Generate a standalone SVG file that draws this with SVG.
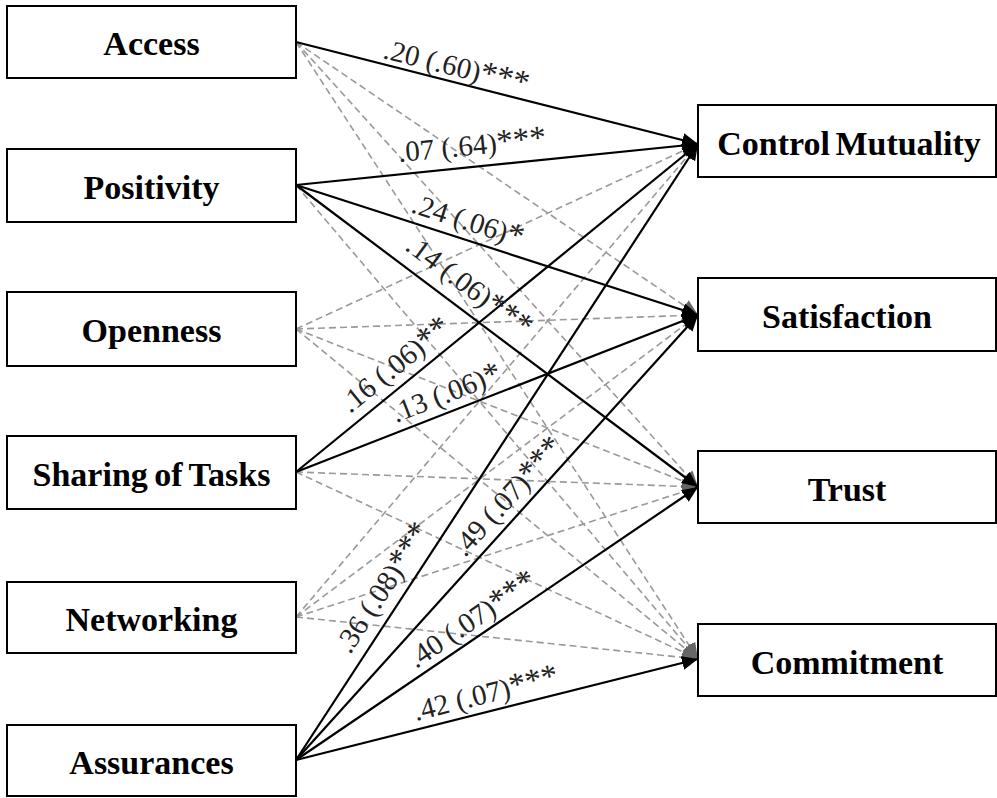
<svg xmlns="http://www.w3.org/2000/svg" width="997" height="798" viewBox="0 0 997 798">
  <style>
    .box { fill: #fff; stroke: #000; stroke-width: 2; }
    .name { font-family: "Liberation Serif", "Times New Roman", serif; font-weight: bold; font-size: 34px; fill: #000; text-anchor: middle; }
    .sig { stroke: #000; stroke-width: 2.2; fill: none; marker-end: url(#headSolid); }
    .ns { stroke: #999; stroke-width: 1.6; stroke-dasharray: 7 4; fill: none; marker-end: url(#headDash); }
    .coef { font-family: "Liberation Serif", "Times New Roman", serif; font-size: 29px; fill: #222; }
    .star { font-size: 33px; }
  </style>
  <defs>
    <marker id="headSolid" markerUnits="userSpaceOnUse" markerWidth="18" markerHeight="16" refX="16" refY="7" orient="auto">
      <path d="M0,0 L16,7 L0,14 Z" fill="#000"/>
    </marker>
    <marker id="headDash" markerUnits="userSpaceOnUse" markerWidth="18" markerHeight="16" refX="16" refY="7" orient="auto">
      <path d="M0,0 L16,7 L0,14 Z" fill="#666"/>
    </marker>
  </defs>
  <rect width="997" height="798" fill="#fff"/>

  <!-- paths; dashed = non-significant -->
  <g id="connectors">
    <g id="nonsignificant">
      <line class="ns" x1="296" y1="42" x2="698" y2="315"/>
      <line class="ns" x1="296" y1="42" x2="698" y2="487"/>
      <line class="ns" x1="296" y1="42" x2="698" y2="659"/>
      <line class="ns" x1="296" y1="185" x2="698" y2="659"/>
      <line class="ns" x1="296" y1="329" x2="698" y2="144"/>
      <line class="ns" x1="296" y1="329" x2="698" y2="315"/>
      <line class="ns" x1="296" y1="329" x2="698" y2="487"/>
      <line class="ns" x1="296" y1="329" x2="698" y2="659"/>
      <line class="ns" x1="296" y1="472" x2="698" y2="487"/>
      <line class="ns" x1="296" y1="472" x2="698" y2="659"/>
      <line class="ns" x1="296" y1="617" x2="698" y2="144"/>
      <line class="ns" x1="296" y1="617" x2="698" y2="315"/>
      <line class="ns" x1="296" y1="617" x2="698" y2="487"/>
      <line class="ns" x1="296" y1="617" x2="698" y2="659"/>
    </g>
    <g id="significant">
      <line class="sig" x1="296" y1="42" x2="698" y2="144"/>
      <line class="sig" x1="296" y1="185" x2="698" y2="144"/>
      <line class="sig" x1="296" y1="185" x2="698" y2="315"/>
      <line class="sig" x1="296" y1="185" x2="698" y2="487"/>
      <line class="sig" x1="296" y1="472" x2="698" y2="144"/>
      <line class="sig" x1="296" y1="472" x2="698" y2="315"/>
      <line class="sig" x1="296" y1="760" x2="698" y2="144"/>
      <line class="sig" x1="296" y1="760" x2="698" y2="315"/>
      <line class="sig" x1="296" y1="760" x2="698" y2="487"/>
      <line class="sig" x1="296" y1="760" x2="698" y2="659"/>
    </g>
    <g id="coefficients">
      <text class="coef" transform="translate(382,58) rotate(14)">.20 (.60)<tspan class="star">***</tspan></text>
      <text class="coef" transform="translate(399,162) rotate(-5.5)">.07 (.64)<tspan class="star">***</tspan></text>
      <text class="coef" transform="translate(410,212) rotate(17.9)">.24 (.06)<tspan class="star">*</tspan></text>
      <text class="coef" transform="translate(404,249) rotate(36.8)">.14 (.06)<tspan class="star">***</tspan></text>
      <text class="coef" transform="translate(350,414) rotate(-39.1)">.16 (.06)<tspan class="star">**</tspan></text>
      <text class="coef" transform="translate(396,423) rotate(-21.3)">.13 (.06)<tspan class="star">*</tspan></text>
      <text class="coef" transform="translate(350,655) rotate(-56.8)">.36 (.08)<tspan class="star">***</tspan></text>
      <text class="coef" transform="translate(465,558) rotate(-47.9)">.49 (.07)<tspan class="star">***</tspan></text>
      <text class="coef" transform="translate(416,669) rotate(-34.2)">.40 (.07)<tspan class="star">***</tspan></text>
      <text class="coef" transform="translate(416,721) rotate(-14.1)">.42 (.07)<tspan class="star">***</tspan></text>
    </g>
  </g>

  <!-- predictors -->
  <g id="access"><rect class="box" x="7" y="6" width="289" height="72"/><text class="name" x="151.5" y="55">Access</text></g>
  <g id="positivity"><rect class="box" x="7" y="149" width="289" height="73"/><text class="name" x="151.5" y="199">Positivity</text></g>
  <g id="openness"><rect class="box" x="7" y="292" width="289" height="74"/><text class="name" x="151.5" y="342">Openness</text></g>
  <g id="sharing"><rect class="box" x="7" y="436" width="289" height="73"/><text class="name" x="151.5" y="486" word-spacing="-2">Sharing of Tasks</text></g>
  <g id="networking"><rect class="box" x="7" y="582" width="289" height="71"/><text class="name" x="151.5" y="631">Networking</text></g>
  <g id="assurances"><rect class="box" x="7" y="725" width="289" height="71"/><text class="name" x="151.5" y="774">Assurances</text></g>

  <!-- outcomes -->
  <g id="control-mutuality"><rect class="box" x="698" y="105" width="298" height="72"/><text class="name" x="849" y="155" word-spacing="-3">Control Mutuality</text></g>
  <g id="satisfaction"><rect class="box" x="698" y="278" width="298" height="73"/><text class="name" x="847" y="328">Satisfaction</text></g>
  <g id="trust"><rect class="box" x="698" y="451" width="298" height="72"/><text class="name" x="847" y="501">Trust</text></g>
  <g id="commitment"><rect class="box" x="698" y="624" width="298" height="72"/><text class="name" x="847" y="674">Commitment</text></g>
</svg>
